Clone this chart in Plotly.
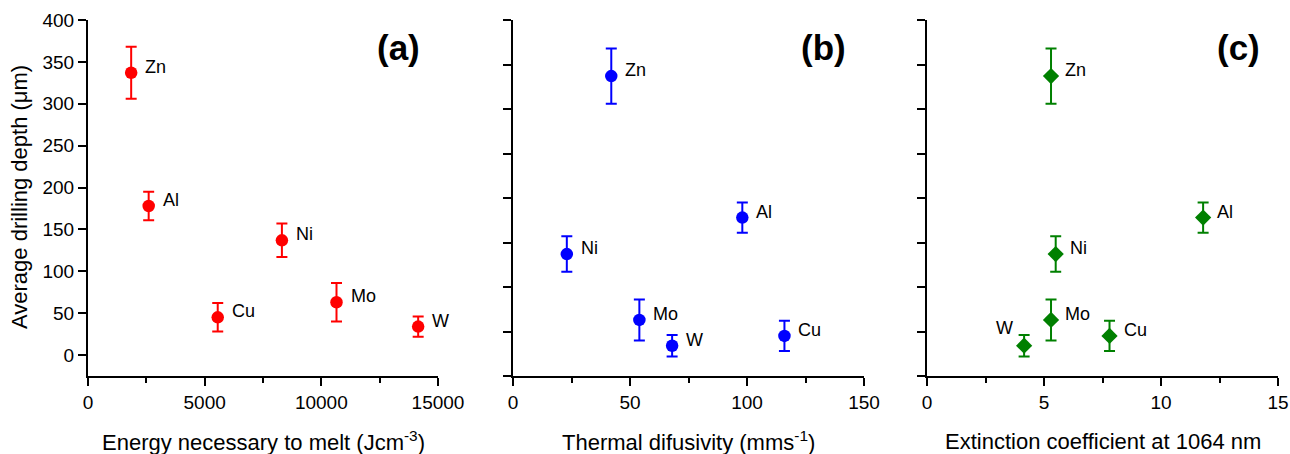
import plotly.graph_objects as go

metals = ["Zn", "Al", "Cu", "Ni", "Mo", "W"]
depth = [337, 178, 45, 137, 63, 34]
depth_err = [31, 17, 17, 20, 23, 12]
energy_melt = [1850, 2600, 5560, 8310, 10650, 14150]
thermal_diff = [42, 98, 116, 23, 54, 68]
extinction = [5.3, 11.8, 7.8, 5.5, 5.3, 4.15]

panel_letters = ["(a)", "(b)", "(c)"]
x_titles = ["Energy necessary to melt (Jcm<sup>-3</sup>)",
            "Thermal difusivity (mms<sup>-1</sup>)",
            "Extinction coefficient at 1064 nm"]
y_title = "Average drilling depth (\u03bcm)"

FONT = "Arial, Liberation Sans, sans-serif"
W, H = 1290, 454
doms = [(88 / W, 438 / W), (513 / W, 864 / W), (927 / W, 1278 / W)]
ydom = ((454 - 376) / H, (454 - 20) / H)

colors = ["#ff0000", "#0000ff", "#008000"]
symbols = ["circle", "circle", "diamond"]
msizes = [12.5, 12.5, 12.5]
xs = [energy_melt, thermal_diff, extinction]
xranges = [(0, 15000), (0, 150), (0, 15)]
xdticks = [5000, 50, 5]
yranges = [(-25, 400), (0, 400), (0, 400)]

fig = go.Figure()
annotations = []
for i in range(3):
    ax = "" if i == 0 else str(i + 1)
    fig.add_trace(go.Scatter(
        x=xs[i], y=depth, mode="markers",
        marker=dict(color=colors[i], size=msizes[i], symbol=symbols[i], line=dict(width=0)),
        error_y=dict(type="data", array=depth_err, visible=True,
                     color=colors[i], thickness=2, width=5.5),
        xaxis="x" + ax, yaxis="y" + ax, showlegend=False, hoverinfo="skip"))
    for name, xv, yv in zip(metals, xs[i], depth):
        if i == 2 and name == "W":
            annotations.append(dict(x=xv, y=yv, xref="x" + ax, yref="y" + ax, text=name,
                                    showarrow=False, xanchor="right", yanchor="middle",
                                    xshift=-9, yshift=18, font=dict(family=FONT, size=18, color="black")))
        else:
            annotations.append(dict(x=xv, y=yv, xref="x" + ax, yref="y" + ax, text=name,
                                    showarrow=False, xanchor="left", yanchor="middle",
                                    xshift=12, yshift=6, font=dict(family=FONT, size=18, color="black")))
    xaxis = dict(domain=doms[i], range=list(xranges[i]), dtick=xdticks[i], tick0=0,
                 tickformat="d", automargin=False,
                 showline=True, linecolor="black", linewidth=2, mirror=False,
                 ticks="outside", ticklen=8, tickwidth=2, tickcolor="black",
                 minor=dict(ticks="outside", ticklen=5, tickwidth=1.5, tickcolor="black",
                            dtick=xdticks[i] / 2),
                 showgrid=False, zeroline=False, anchor="y" + ax,
                 tickfont=dict(family=FONT, size=19, color="black"))
    yaxis = dict(domain=ydom, range=list(yranges[i]), dtick=50, tick0=0, automargin=False,
                 showline=True, linecolor="black", linewidth=2,
                 ticks="outside", ticklen=8, tickwidth=2, tickcolor="black",
                 showgrid=False, zeroline=False, anchor="x" + ax,
                 showticklabels=(i == 0),
                 tickfont=dict(family=FONT, size=19, color="black"))
    fig.layout["xaxis" + ax] = xaxis
    fig.layout["yaxis" + ax] = yaxis
    annotations.append(dict(x=doms[i][1] - 40 / W, y=(454 - 47) / H, xref="paper", yref="paper",
                            text="<b>" + panel_letters[i] + "</b>", showarrow=False,
                            xanchor="center", yanchor="middle",
                            font=dict(family=FONT, size=35, color="black")))
    annotations.append(dict(x=(doms[i][0] + doms[i][1]) / 2, y=(454 - 441) / H, xref="paper", yref="paper",
                            text=x_titles[i], showarrow=False, xanchor="center", yanchor="middle",
                            font=dict(family=FONT, size=22, color="black")))

annotations.append(dict(x=19 / W, y=(454 - 197) / H, xref="paper", yref="paper",
                        text=y_title, showarrow=False, textangle=-90,
                        xanchor="center", yanchor="middle",
                        font=dict(family=FONT, size=22, color="black")))

fig.update_layout(width=W, height=H, margin=dict(l=0, r=0, t=0, b=0, autoexpand=False),
                  paper_bgcolor="white", plot_bgcolor="white",
                  annotations=annotations)
fig.write_html("out.html", config={"displayModeBar": False},
               post_script="document.body.style.margin='0';document.body.style.overflow='hidden';")
